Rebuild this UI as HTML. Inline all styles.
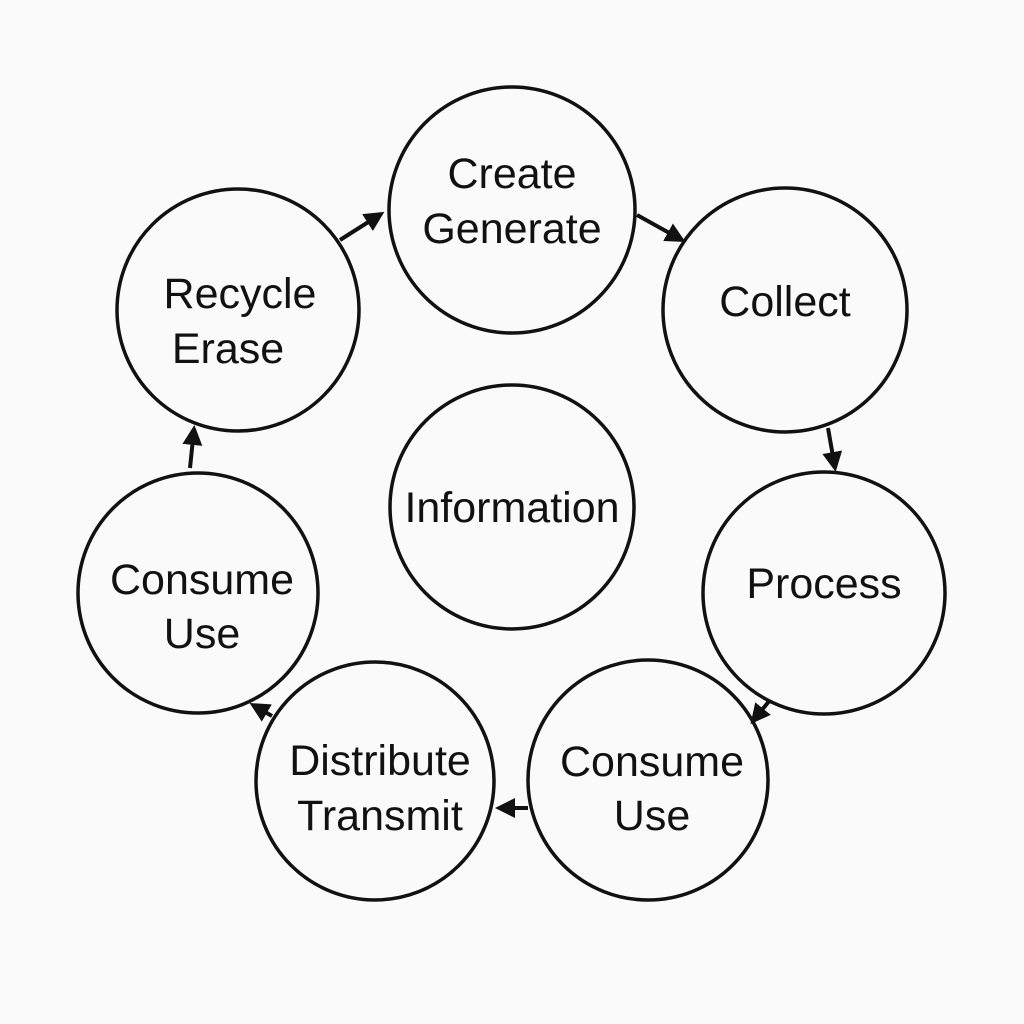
<!DOCTYPE html>
<html><head><meta charset="utf-8"><style>
html,body{margin:0;padding:0;background:#fafafa;}
svg{display:block}
text{font-family:"Liberation Sans","DejaVu Sans",sans-serif;font-size:43px;fill:#111;text-anchor:middle}
</style></head><body>
<svg width="1024" height="1024" viewBox="0 0 1024 1024">
<defs><marker id="a" viewBox="0 0 10 10" refX="8" refY="5" markerWidth="5" markerHeight="5" orient="auto"><path d="M0,0 L10,5 L0,10 z" fill="#111"/></marker></defs>
<g fill="none" stroke="#111" stroke-width="3.5">
<circle cx="512" cy="210" r="123"/>
<circle cx="785" cy="310" r="122"/>
<circle cx="824" cy="593" r="121"/>
<circle cx="648" cy="780" r="120"/>
<circle cx="375" cy="781" r="119"/>
<circle cx="198" cy="593" r="120"/>
<circle cx="238" cy="310" r="121"/>
<circle cx="512" cy="507" r="122"/>
</g>
<g stroke="#111" stroke-width="4" fill="none" marker-end="url(#a)">
<line x1="340" y1="240" x2="381" y2="214"/>
<line x1="637" y1="215" x2="682" y2="240"/>
<line x1="828" y1="428" x2="835" y2="468"/>
<line x1="770" y1="700" x2="753" y2="721"/>
<line x1="528" y1="808" x2="499" y2="808"/>
<line x1="272" y1="716" x2="253" y2="705"/>
<line x1="190" y1="468" x2="194" y2="429"/>
</g>
<text x="512" y="188">Create</text>
<text x="512" y="243">Generate</text>
<text x="785" y="316">Collect</text>
<text x="824" y="598">Process</text>
<text x="652" y="776">Consume</text>
<text x="652" y="830">Use</text>
<text x="380" y="775">Distribute</text>
<text x="380" y="830">Transmit</text>
<text x="202" y="594">Consume</text>
<text x="202" y="648">Use</text>
<text x="240" y="308">Recycle</text>
<text x="228" y="363">Erase</text>
<text x="512" y="522">Information</text>
</svg>
</body></html>
